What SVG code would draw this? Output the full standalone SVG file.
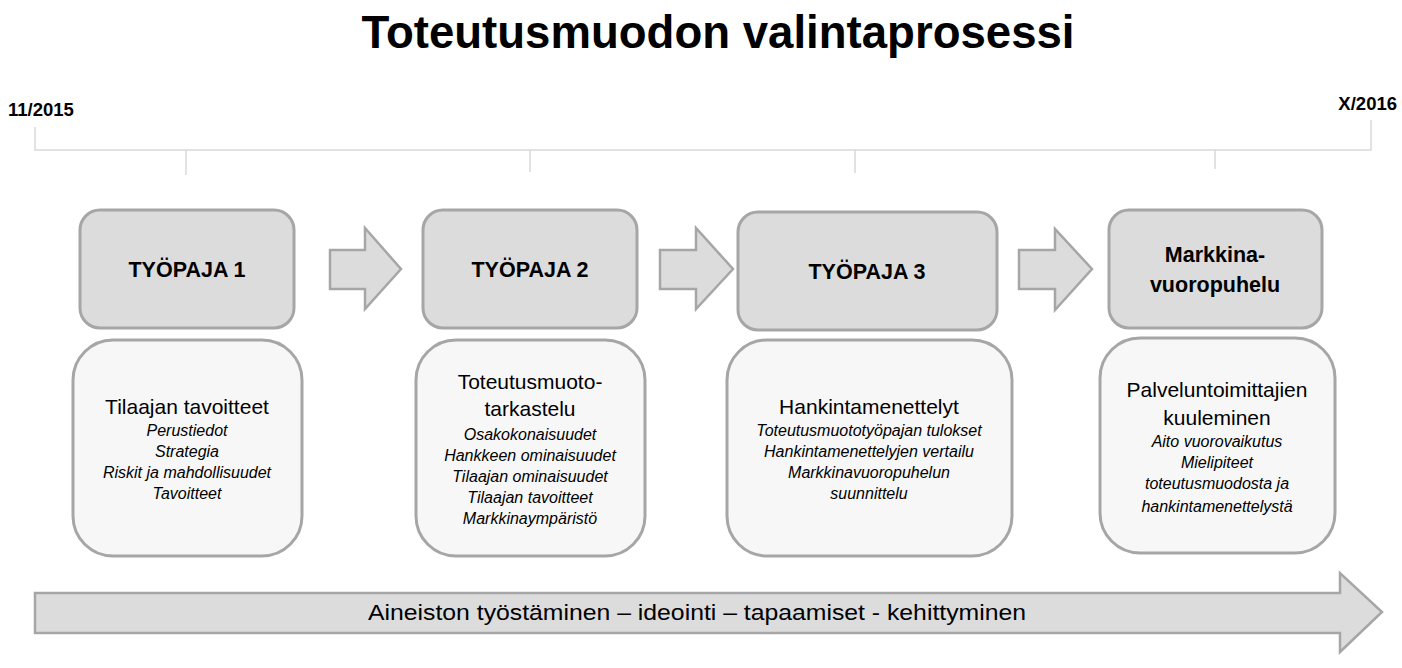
<svg xmlns="http://www.w3.org/2000/svg" width="1402" height="668" viewBox="0 0 1402 668">
<style>
text{font-family:"Liberation Sans",Arial,sans-serif;fill:#000;text-anchor:middle}
.hdr{fill:#dcdcdc;stroke:#a6a6a6;stroke-width:3}
.det{fill:#f7f7f7;stroke:#a6a6a6;stroke-width:3}
.arr{fill:#dcdcdc;stroke:#a6a6a6;stroke-width:2.5;stroke-linejoin:miter}
.tl{stroke:#d9d9d9;stroke-width:1.5;fill:none}
.h{font-size:21.5px;font-weight:bold}
.t{font-size:21px}
.i{font-size:16px;font-style:italic}
.date{font-size:18.5px;font-weight:bold}
</style>
<text x="718" y="48" style="font-size:46px;font-weight:bold" textLength="713" lengthAdjust="spacingAndGlyphs">Toteutusmuodon valintaprosessi</text>
<g id="timeline">
<text class="date" x="8" y="116" style="text-anchor:start">11/2015</text>
<text class="date" x="1397" y="110" style="text-anchor:end">X/2016</text>
<path class="tl" d="M35 127V150H1371V120M186 150V175M530 150V172M855 150V173M1215 150V169"/>
</g>
<g id="connectors">
<path class="arr" d="M330 250H365V228L401 269L365 309V289H330Z"/>
<path class="arr" d="M660 250H696V228L733 269L696 309V289H660Z"/>
<path class="arr" d="M1019 250H1055V229L1092 269L1055 310V289H1019Z"/>
</g>
<g id="node1">
<rect class="hdr" x="80" y="210" width="214" height="118" rx="20"/>
<text class="h" x="187" y="277">TYÖPAJA 1</text>
</g>
<g id="node2">
<rect class="hdr" x="423" y="210" width="214" height="118" rx="20"/>
<text class="h" x="530" y="277">TYÖPAJA 2</text>
</g>
<g id="node3">
<rect class="hdr" x="738" y="212" width="259" height="118" rx="20"/>
<text class="h" x="867" y="279">TYÖPAJA 3</text>
</g>
<g id="node4">
<rect class="hdr" x="1109" y="210" width="213" height="118" rx="20"/>
<text class="h" x="1215" y="262">Markkina-</text>
<text class="h" x="1215" y="292">vuoropuhelu</text>
</g>
<g id="detail1">
<rect class="det" x="73" y="340" width="229" height="216" rx="40"/>
<text class="t" x="187" y="414">Tilaajan tavoitteet</text>
<text class="i" x="187" y="436">Perustiedot</text>
<text class="i" x="187" y="457">Strategia</text>
<text class="i" x="187" y="478">Riskit ja mahdollisuudet</text>
<text class="i" x="187" y="499">Tavoitteet</text>
</g>
<g id="detail2">
<rect class="det" x="416" y="340" width="229" height="216" rx="40"/>
<text class="t" x="530" y="389">Toteutusmuoto-</text>
<text class="t" x="530" y="416">tarkastelu</text>
<text class="i" x="530" y="440">Osakokonaisuudet</text>
<text class="i" x="530" y="461">Hankkeen ominaisuudet</text>
<text class="i" x="530" y="482">Tilaajan ominaisuudet</text>
<text class="i" x="530" y="503">Tilaajan tavoitteet</text>
<text class="i" x="530" y="524">Markkinaympäristö</text>
</g>
<g id="detail3">
<rect class="det" x="727" y="340" width="285" height="216" rx="40"/>
<text class="t" x="869" y="414">Hankintamenettelyt</text>
<text class="i" x="869" y="436">Toteutusmuototyöpajan tulokset</text>
<text class="i" x="869" y="457">Hankintamenettelyjen vertailu</text>
<text class="i" x="869" y="478">Markkinavuoropuhelun</text>
<text class="i" x="869" y="499">suunnittelu</text>
</g>
<g id="detail4">
<rect class="det" x="1100" y="338" width="235" height="215" rx="40"/>
<text class="t" x="1217" y="397">Palveluntoimittajien</text>
<text class="t" x="1217" y="425">kuuleminen</text>
<text class="i" x="1217" y="447">Aito vuorovaikutus</text>
<text class="i" x="1217" y="468">Mielipiteet</text>
<text class="i" x="1217" y="489">toteutusmuodosta ja</text>
<text class="i" x="1217" y="512">hankintamenettelystä</text>
</g>
<g id="process">
<path class="arr" d="M35 593H1340V573L1382 612L1340 652V633H35Z"/>
<text x="697" y="620" style="font-size:22px" textLength="658" lengthAdjust="spacingAndGlyphs">Aineiston työstäminen – ideointi – tapaamiset - kehittyminen</text>
</g>
</svg>
